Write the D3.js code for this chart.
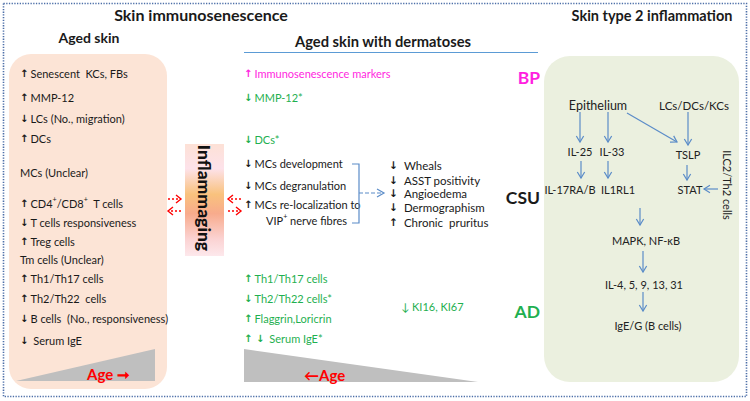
<!DOCTYPE html>
<html><head><meta charset="utf-8">
<script src="https://cdn.jsdelivr.net/npm/d3@7"></script>
<style>
html,body{margin:0;padding:0;background:#fff;}
svg{display:block;font-family:Lato,"Open Sans",sans-serif;}
text{white-space:pre;}
</style></head>
<body>
<svg id="c" width="750" height="401"></svg>
<script>
// ---------- DATA ----------
const titles = ["Skin immunosenescence", "Skin type 2 inflammation"];
const subTitles = ["Aged skin", "Aged skin with dermatoses"];
const agedSkinDir = ["↑","↑","↓","↑","","↑","↓","↑","","↑","↑","↓","↓"];
const agedSkinText = ["Senescent  KCs, FBs","MMP-12","LCs (No., migration)","DCs","MCs (Unclear)",
  "CD4+/CD8+  T cells","T cells responsiveness","Treg cells","Tm cells (Unclear)","Th1/Th17 cells",
  "Th2/Th22  cells","B cells  (No., responsiveness)"," Serum IgE"];
const bpDir = ["↑"]; const bpText = ["Immunosenescence markers"];
const sharedDir = ["↓","↓"]; const sharedText = ["MMP-12*","DCs*"];
const mcDir = ["↓","↓","↑",""]; const mcText = ["MCs development","MCs degranulation","MCs re-localization to","VIP+ nerve fibres"];
const csuDir = ["↓","↓","↓","↓","↑"]; const csuText = ["Wheals","ASST positivity","Angioedema","Dermographism","Chronic  pruritus"];
const adDir = ["↑","↓","↑","↑ ↓"]; const adText = ["Th1/Th17 cells","Th2/Th22 cells*","Flaggrin,Loricrin"," Serum IgE*"];
const adExtra = ["↓ KI16, KI67"];
const diseases = ["BP","CSU","AD"];
const pathwayNodes = ["Epithelium","LCs/DCs/KCs","IL-25","IL-33","TSLP","IL-17RA/B","IL1RL1","STAT","MAPK, NF-κB","IL-4, 5, 9, 13, 31","IgE/G (B cells)"];
const pathwayEdges = [["Epithelium","IL-25"],["Epithelium","IL-33"],["Epithelium","TSLP"],["LCs/DCs/KCs","TSLP"],
  ["IL-25","IL-17RA/B"],["IL-33","IL1RL1"],["TSLP","STAT"],["IL1RL1","MAPK, NF-κB"],["MAPK, NF-κB","IL-4, 5, 9, 13, 31"],["IL-4, 5, 9, 13, 31","IgE/G (B cells)"]];
const sideCells = ["ILC2/Th2 cells"];
const centerLabel = ["Inflammaging"];
const ageLabel = ["Age"];

// ---------- LAYOUT ----------
const svg = d3.select("#c");
const GREEN = "#1fb050", MAGENTA = "#ff1fe0", BLUE = "#5b8cc8", RED = "#ff0000";
const defs = svg.append("defs");
const grad = defs.append("linearGradient").attr("id","inf").attr("x1",0).attr("y1",0).attr("x2",0).attr("y2",1);
[[0,"#fde1d6"],[0.22,"#fde2ea"],[0.45,"#f9c27d"],[0.62,"#f8ab8c"],[0.85,"#fbd3d3"],[1,"#fde8ec"]]
  .forEach(([o,c])=>grad.append("stop").attr("offset",o).attr("stop-color",c));

// outer dotted frame
svg.append("rect").attr("x",3.5).attr("y",3.5).attr("width",743).attr("height",393)
  .attr("fill","none").attr("stroke","#4d6fa8").attr("stroke-width",1.6).attr("stroke-dasharray","1.3,1.4");

// panels
svg.append("rect").attr("x",9).attr("y",54).attr("width",158).attr("height",335).attr("rx",22)
  .attr("fill","#fce4d6");
svg.append("rect").attr("x",544).attr("y",56).attr("width",195).attr("height",326).attr("rx",26)
  .attr("fill","#ebf0df");

// titles
svg.selectAll("text.title").data(titles).join("text").attr("class","title")
  .attr("x",(d,i)=>[201,652][i]).attr("y",21).attr("text-anchor","middle")
  .attr("font-weight","bold").attr("font-size",(d,i)=>[16,14.5][i]).attr("fill","#1a1a1a").text(d=>d);
svg.selectAll("text.sub").data(subTitles).join("text").attr("class","sub")
  .attr("x",(d,i)=>[89,383][i]).attr("y",(d,i)=>[43,47][i]).attr("text-anchor","middle")
  .attr("font-weight","bold").attr("font-size",(d,i)=>[14,14.7][i]).attr("fill","#1a1a1a").text(d=>d);
svg.append("line").attr("x1",244).attr("x2",538).attr("y1",52.5).attr("y2",52.5).attr("stroke","#5b9bd5").attr("stroke-width",1);

// helper: text with superscript "+"
function richText(sel, str){
  const parts = str.split(/(\+)/);
  let pending = 0;
  parts.forEach(p=>{
    if(p==="+"){ sel.append("tspan").attr("font-size","0.65em").attr("dy",-4+pending).text("+"); pending = 4; }
    else if(p.length){ sel.append("tspan").attr("dy",pending).text(p); pending = 0; }
  });
}
function list(g, dirs, texts, ys, x, color, fs, gap){
  const y = d3.scaleOrdinal().domain(d3.range(texts.length)).range(ys);
  const rows = [];
  texts.forEach((t,i)=>{
    const row = g.append("text").attr("x",x).attr("y",y(i)).attr("dominant-baseline","central")
      .attr("font-size",fs).attr("fill",color);
    if(dirs[i]) row.append("tspan").attr("font-weight","bold").attr("font-family","DejaVu Sans").attr("font-size",fs*0.92).text(dirs[i]);
    const body = row.append("tspan").attr("dx", dirs[i] ? gap : 0);
    richText(body, t);
    rows.push(row);
  });
  return rows;
}

// left panel list
list(svg.append("g"), agedSkinDir, agedSkinText,
  [73,97,118,138,172,203,222,241,259,278,298,318,340], 20, "#1a1a1a", 11, 2);

// triangles
const triL = d3.scaleLinear().domain([0,1]).range([16,155]);
svg.append("path").attr("d",`M${triL(0)},381 L${triL(1)},349 L${triL(1)},381 Z`).attr("fill","#bfbfbf");
const triR = d3.scaleLinear().domain([0,1]).range([244,478]);
svg.append("path").attr("d",`M${triR(0)},349 L${triR(1)},382 L${triR(0)},382 Z`).attr("fill","#bfbfbf");
svg.append("text").attr("x",87).attr("y",380).attr("font-weight","bold").attr("font-size",15).attr("fill",RED)
  .text(ageLabel[0]+" ➞");
svg.append("text").attr("x",304).attr("y",381).attr("font-weight","bold").attr("font-size",15).attr("fill",RED)
  .text("←"+ageLabel[0]);

// inflammaging box
svg.append("rect").attr("x",185).attr("y",144).attr("width",39).attr("height",112).attr("fill","url(#inf)");
svg.append("text").attr("transform","translate(204.5,198) rotate(90)").attr("text-anchor","middle")
  .attr("dominant-baseline","central").attr("font-weight","900").attr("font-size",17.5).attr("fill","#111").text(centerLabel[0]);

// red dashed arrows
function redArrow(x1,x2,y){
  svg.append("line").attr("x1",x1).attr("x2",x2).attr("y1",y).attr("y2",y).attr("stroke",RED)
    .attr("stroke-width",1.4).attr("stroke-dasharray","2,2");
  const s = x2>x1?-1:1;
  svg.append("path").attr("d",`M${x2+s*5},${y-4} L${x2},${y} L${x2+s*5},${y+4}`).attr("fill","none")
    .attr("stroke",RED).attr("stroke-width",1.4);
}
redArrow(168,181,199); redArrow(181,168,211);
redArrow(241,228,199); redArrow(228,241,211);

// middle column
list(svg.append("g"), bpDir, bpText, [73], 244, MAGENTA, 11, 2);
list(svg.append("g"), sharedDir, sharedText, [97,139], 244, GREEN, 11, 2);
const mcRows = list(svg.append("g"), mcDir, mcText, [163,185,204,220], 244, "#1a1a1a", 11, 2);
mcRows[3].attr("x",266);
list(svg.append("g"), csuDir, csuText, [165,179.5,193,207,222], 389, "#1a1a1a", 11.5, 6);
list(svg.append("g"), adDir, adText, [278,298,318,338], 244, GREEN, 11, 2);
svg.append("text").attr("x",401).attr("y",306).attr("dominant-baseline","central").attr("font-size",11)
  .attr("fill",GREEN).text(adExtra[0]);

// bracket
svg.append("path").attr("d","M352,164 H359 V223 H352").attr("fill","none").attr("stroke",BLUE).attr("stroke-width",1.2);
svg.append("line").attr("x1",359).attr("x2",383).attr("y1",193).attr("y2",193).attr("stroke",BLUE)
  .attr("stroke-width",1.2).attr("stroke-dasharray","4,2");
svg.append("path").attr("d","M377,189 L384,193 L377,197").attr("fill","none").attr("stroke",BLUE).attr("stroke-width",1.2);

// disease labels
svg.selectAll("text.dis").data(diseases).join("text").attr("class","dis")
  .attr("x",540).attr("y",(d,i)=>[77,197,311][i]).attr("text-anchor","end").attr("dominant-baseline","central")
  .attr("font-weight","bold").attr("font-size",17.5).attr("fill",(d,i)=>[MAGENTA,"#1a1a1a",GREEN][i]).text(d=>d);

// right pathway
const nodePos = {"Epithelium":[598,105],"LCs/DCs/KCs":[694,105],"IL-25":[580,151],"IL-33":[612,151],"TSLP":[688,154],
  "IL-17RA/B":[570,189],"IL1RL1":[618,189],"STAT":[690,189],"MAPK, NF-κB":[646,240],"IL-4, 5, 9, 13, 31":[644,284],"IgE/G (B cells)":[648,325]};
const nodeSize = {"Epithelium":12.5,"LCs/DCs/KCs":11.5};
svg.selectAll("text.node").data(pathwayNodes).join("text").attr("class","node")
  .attr("x",d=>nodePos[d][0]).attr("y",d=>nodePos[d][1]).attr("text-anchor","middle").attr("dominant-baseline","central")
  .attr("font-size",d=>nodeSize[d]||11).attr("fill","#222").text(d=>d);

function blueArrow(x1,y1,x2,y2){
  svg.append("line").attr("x1",x1).attr("y1",y1).attr("x2",x2).attr("y2",y2).attr("stroke",BLUE).attr("stroke-width",1.2);
  const a = Math.atan2(y2-y1,x2-x1), L=7, w=0.55;
  const p1=[x2-L*Math.cos(a-w), y2-L*Math.sin(a-w)], p2=[x2-L*Math.cos(a+w), y2-L*Math.sin(a+w)];
  svg.append("path").attr("d",`M${p1} L${x2},${y2} L${p2}`).attr("fill","none").attr("stroke",BLUE).attr("stroke-width",1.2);
}
const edgeGeom = {
  "Epithelium>IL-25":[580,112,580,142], "Epithelium>IL-33":[608,112,608,142], "Epithelium>TSLP":[627,113,677,142],
  "LCs/DCs/KCs>TSLP":[688,112,688,145], "IL-25>IL-17RA/B":[581,161,581,178], "IL-33>IL1RL1":[608,161,608,178],
  "TSLP>STAT":[687,165,687,180], "IL1RL1>MAPK, NF-κB":[640,208,640,225], "MAPK, NF-κB>IL-4, 5, 9, 13, 31":[643,251,643,272],
  "IL-4, 5, 9, 13, 31>IgE/G (B cells)":[643,292,643,311]
};
pathwayEdges.forEach(([a,b])=>{ const g=edgeGeom[a+">"+b]; blueArrow(...g); });
blueArrow(718,189,704,189);
svg.append("text").attr("transform","translate(727,185) rotate(90)").attr("text-anchor","middle")
  .attr("dominant-baseline","central").attr("font-size",11).attr("fill","#222").text(sideCells[0]);
</script>
</body></html>
